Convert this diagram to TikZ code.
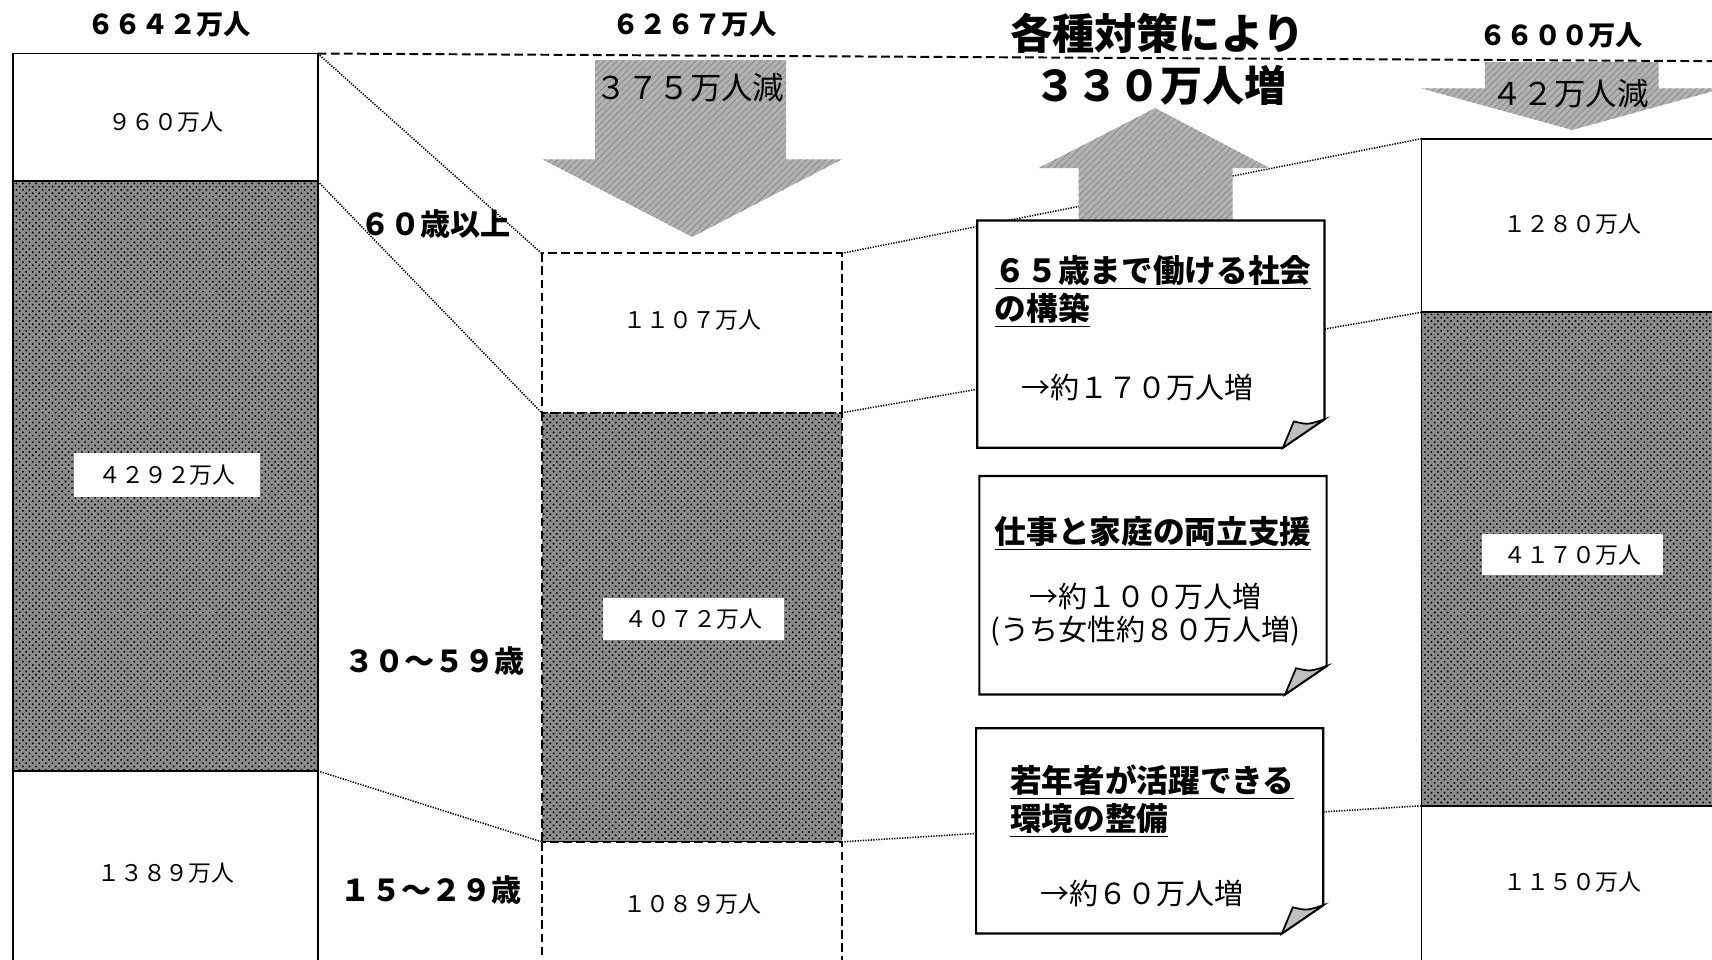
\documentclass[tikz,border=0pt]{standalone}
\usepackage{fontspec}
\setmainfont{Noto Sans CJK JP}
\usepackage{tikz}
\usetikzlibrary{calc,patterns}

\tikzset{
  band/.style={draw=black,line width=0.8pt,fill=white},
  dotband/.style={draw=black,line width=0.8pt,fill=black!45,postaction={pattern=crosshatch dots,pattern color=black}},
  gapline/.style={line width=0.9pt,dash pattern=on 4pt off 2pt},
  guide/.style={line width=0.7pt,dash pattern=on 0.6pt off 0.6pt},
  fatarrow/.style={fill=black!30,draw=none,postaction={pattern=north east lines,pattern color=black!45}},
  memo/.style={draw=black,line width=1pt,fill=white},
  flap/.style={draw=black,line width=0.8pt,fill=black!25},
  val/.style={font=\fontsize{10.5}{12}\selectfont},
  total/.style={font=\fontsize{12.5}{14}\selectfont\bfseries},
  age/.style={font=\fontsize{13.8}{16}\selectfont\bfseries},
  cut/.style={font=\fontsize{14.4}{16}\selectfont},
  head/.style={font=\fontsize{14.5}{17.5}\selectfont\bfseries,align=left,anchor=west},
  gain/.style={font=\fontsize{13.3}{15}\selectfont,align=center},
  big/.style={font=\fontsize{19.3}{22}\selectfont\bfseries},
}

\begin{document}
\begin{tikzpicture}[x=0.5pt,y=-0.5pt]
\useasboundingbox (0,0) rectangle (1568,879);

\coordinate (a0) at (291,49);
\coordinate (a1) at (291,166);
\coordinate (a2) at (291,706);
\coordinate (b0) at (496,232);
\coordinate (b1) at (496,378);
\coordinate (b2) at (496,771);
\coordinate (c0) at (771,232);
\coordinate (c1) at (771,378);
\coordinate (c2) at (771,771);
\coordinate (d0) at (1302,127);
\coordinate (d1) at (1302,286);
\coordinate (d2) at (1302,738);
\coordinate (e0) at (1568,56);

% bars
\draw[band] (12,49) rectangle (a1);
\draw[dotband] (12,166) rectangle (a2);
\draw[band] (12,706) rectangle (291,900);

\draw[band,gapline] (b0) rectangle (c1);
\draw[dotband,gapline] (b1) rectangle (c2);
\draw[band,gapline] (b2) rectangle (771,900);

\draw[band] (d0) rectangle (1590,286);
\draw[dotband] (d1) rectangle (1590,738);
\draw[band] (d2) rectangle (1590,900);

\draw[gapline] (a0) -- (e0);
\draw[guide] (a0) -- (b0);
\draw[guide] (a1) -- (b1);
\draw[guide] (a2) -- (b2);
\draw[guide] (c0) -- (d0);
\draw[guide] (c1) -- (d1);
\draw[guide] (c2) -- (d2);

% arrows
\fill[fatarrow] (545,55) -- (720,55) -- (720,146) -- (771,146) -- (634,217) -- (497,146) -- (545,146) -- cycle;
\fill[fatarrow] (988,205) -- (988,154) -- (951,154) -- (1058,99) -- (1163,154) -- (1129,154) -- (1129,205) -- cycle;
\fill[fatarrow] (1360,57) -- (1519,57) -- (1519,81) -- (1578,81) -- (1440,119) -- (1302,81) -- (1360,81) -- cycle;

% memo boxes
\draw[memo] (895,202) -- (1213,202) -- (1213,384) -- (1175,410) -- (895,410) -- cycle;
\draw[flap] (1213,384) .. controls (1198,389) .. (1185,386) -- (1175,410) -- cycle;
\draw[memo] (897,436) -- (1215,436) -- (1215,610) -- (1177,636) -- (897,636) -- cycle;
\draw[flap] (1215,610) .. controls (1200,615) .. (1187,612) -- (1177,636) -- cycle;
\draw[memo] (894,667) -- (1212,667) -- (1212,829) -- (1174,855) -- (894,855) -- cycle;
\draw[flap] (1212,829) .. controls (1197,834) .. (1184,831) -- (1174,855) -- cycle;

% texts
\node[total] (t1) at (155,22) {６６４２万人};
\node[total] (t2) at (636,22) {６２６７万人};
\node[total] (t3) at (1430,32) {６６００万人};

\node[val] (v1) at (152,112) {９６０万人};
\node[val,fill=white,minimum width=85.5pt,minimum height=20pt] (v2) at (153,435) {４２９２万人};
\node[val] (v3) at (152,800) {１３８９万人};
\node[val] (v4) at (634,293) {１１０７万人};
\node[val,fill=white,minimum width=83pt,minimum height=19pt] (v5) at (635,567) {４０７２万人};
\node[val] (v6) at (634,828) {１０８９万人};
\node[val] (v7) at (1440,205) {１２８０万人};
\node[val,fill=white,minimum width=83pt,minimum height=19pt] (v8) at (1440,508) {４１７０万人};
\node[val] (v9) at (1440,808) {１１５０万人};

\node[age] (g60) at (399,205) {６０歳以上};
\node[age] (g30) at (398,605) {３０～５９歳};
\node[age] (g15) at (395,815) {１５～２９歳};

\node[cut] (r1) at (632,80) {３７５万人減};
\node[cut] (r2) at (1438,86) {４２万人減};
\node[big] (s1) at (1060,30) {各種対策により};
\node[big] (s2) at (1063,78) {３３０万人増};

\node[head] (h1) at (904,267) {\underline{６５歳まで働ける社会}\\\underline{の構築}};
\node[gain] (p1) at (1042,355) {→約１７０万人増};
\node[head] (h2) at (904,489) {\underline{仕事と家庭の両立支援}};
\node[gain] (p2) at (1049,563) {→約１００万人増\\(うち女性約８０万人増)};
\node[head] (h3) at (918,734) {\underline{若年者が活躍できる}\\\underline{環境の整備}};
\node[gain] (p3) at (1046,818) {→約６０万人増};
\end{tikzpicture}
\end{document}
